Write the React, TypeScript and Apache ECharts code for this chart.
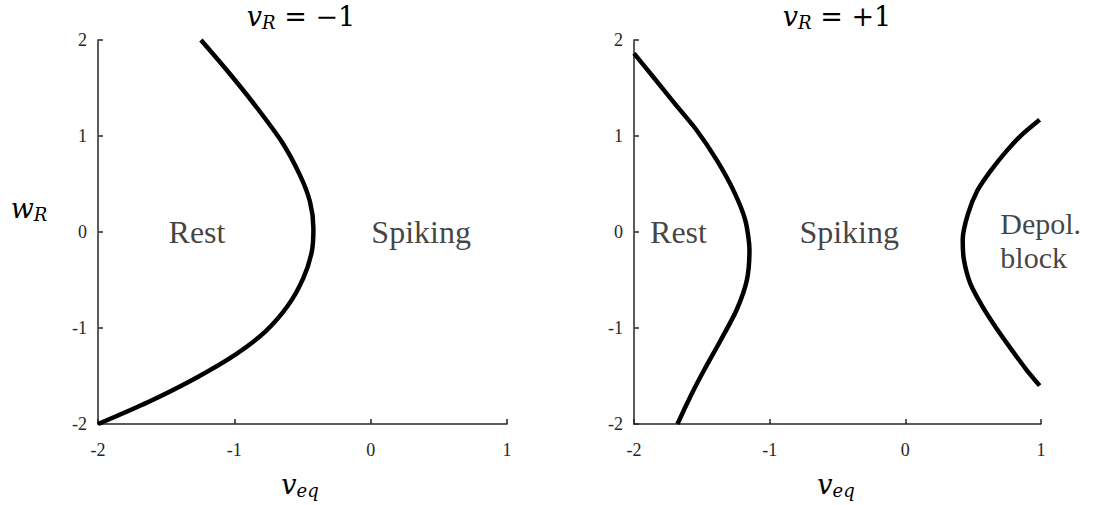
import React, { useEffect, useRef } from "react";
import * as echarts from "echarts";

// Axis ticks
const xTicks = [-2, -1, 0, 1];
const yTicks = [-2, -1, 0, 1, 2];

// Panel titles
const panelTitles = ["\u22121", "+1"];

// v_R = -1 : boundary curve (v_eq, w_R)
const leftCurve: [number, number][] = [
  [-1.245, 2.0], [-1.044, 1.667], [-0.848, 1.32], [-0.652, 0.94], [-0.518, 0.59],
  [-0.445, 0.315], [-0.42, 0.04], [-0.432, -0.206], [-0.494, -0.48], [-0.604, -0.76],
  [-0.775, -1.04], [-0.995, -1.28], [-1.288, -1.525], [-1.631, -1.77], [-2.0, -2.0],
];

// v_R = +1 : rest / spiking boundary
const rightCurveA: [number, number][] = [
  [-2.0, 1.86], [-1.858, 1.615], [-1.71, 1.355], [-1.538, 1.06], [-1.39, 0.748],
  [-1.268, 0.436], [-1.18, 0.124], [-1.149, -0.188], [-1.168, -0.5], [-1.243, -0.81],
  [-1.36, -1.125], [-1.48, -1.43], [-1.585, -1.715], [-1.68, -2.0],
];

// v_R = +1 : spiking / depolarization block boundary
const rightCurveB: [number, number][] = [
  [0.99, 1.17], [0.86, 1.015], [0.75, 0.85], [0.63, 0.64], [0.53, 0.43], [0.46, 0.18],
  [0.423, -0.08], [0.432, -0.29], [0.48, -0.54], [0.57, -0.78], [0.67, -1.0],
  [0.78, -1.22], [0.89, -1.43], [0.99, -1.6],
];

// Region labels
const leftLabelNames = ["Rest", "Spiking"];
const leftLabelX = [-1.274, 0.37];
const leftLabelY = [0.0, 0.0];
const rightLabelNames = ["Rest", "Spiking", "Depol.\nblock"];
const rightLabelX = [-1.672, -0.414, 0.7];
const rightLabelY = [0.0, 0.0, -0.09];

const AXIS_COLOR = "#262626";
const SERIF = "Liberation Serif";
const MATH = "DejaVu Serif";

function axisCommon() {
  return {
    axisLine: { show: true, onZero: false, lineStyle: { color: AXIS_COLOR, width: 1.5 } },
    axisTick: { show: true, inside: true, length: 5, lineStyle: { color: AXIS_COLOR, width: 1.5 } },
    splitLine: { show: false },
  };
}

const mathRich = {
  v: { fontFamily: MATH, fontStyle: "italic", fontSize: 27, lineHeight: 30, color: "#111" },
  s: { fontFamily: MATH, fontStyle: "italic", fontSize: 18, lineHeight: 18, verticalAlign: "bottom", color: "#111" },
  n: { fontFamily: MATH, fontSize: 27, lineHeight: 30, color: "#111" },
};

export default function App() {
  const ref = useRef<HTMLDivElement>(null);
  useEffect(() => {
    if (!ref.current) return;
    const chart = echarts.init(ref.current, null, { renderer: "svg" });
    const grids = [
      { left: 98, top: 40, width: 409, height: 384 },
      { left: 634, top: 40, width: 407, height: 384 },
    ];
    const xAxis = [0, 1].map((i) => ({
      type: "value",
      gridIndex: i,
      min: xTicks[0],
      max: xTicks[xTicks.length - 1],
      interval: 1,
      ...axisCommon(),
      axisLabel: { fontFamily: SERIF, fontSize: 18, color: AXIS_COLOR, margin: 17 },
    }));
    const yAxis = [0, 1].map((i) => ({
      type: "value",
      gridIndex: i,
      min: yTicks[0],
      max: yTicks[yTicks.length - 1],
      interval: 1,
      ...axisCommon(),
      axisLabel: { fontFamily: SERIF, fontSize: 18, color: AXIS_COLOR, margin: 11 },
    }));
    const lineSeries = (data: [number, number][], idx: number) => ({
      type: "line",
      xAxisIndex: idx,
      yAxisIndex: idx,
      data,
      showSymbol: false,
      smooth: 0.25,
      lineStyle: { color: "#000", width: 4.5, cap: "butt", join: "round" },
      silent: true,
    });
    const labelSeries = (
      names: string[], xs: number[], ys: number[], idx: number, align: string, size: number, lh: number
    ) => ({
      type: "scatter",
      xAxisIndex: idx,
      yAxisIndex: idx,
      symbolSize: 0,
      silent: true,
      data: names.map((n, k) => ({ name: n, value: [xs[k], ys[k]] })),
      label: {
        show: true,
        position: "inside",
        formatter: (p: any) => p.name,
        fontFamily: SERIF,
        fontSize: size,
        lineHeight: lh,
        color: "#111",
        align,
        verticalAlign: "middle",
      },
    });
    const graphicTexts = [
      { x: 301, y: 16, text: `{v|v}{s|R}{n| = ${panelTitles[0]}}` },
      { x: 837, y: 16, text: `{v|v}{s|R}{n| = ${panelTitles[1]}}` },
      { x: 300, y: 484, text: "{v|v}{s|eq}" },
      { x: 836, y: 484, text: "{v|v}{s|eq}" },
      { x: 29, y: 208, text: "{v|w}{s|R}" },
    ].map((g) => ({
      type: "text",
      x: g.x,
      y: g.y,
      silent: true,
      style: { text: g.text, rich: mathRich, align: "center", verticalAlign: "middle" },
    }));
    chart.setOption({
      animation: false,
      backgroundColor: "#ffffff",
      grid: grids,
      xAxis,
      yAxis,
      series: [
        lineSeries(leftCurve, 0),
        lineSeries(rightCurveA, 1),
        lineSeries(rightCurveB, 1),
        labelSeries(leftLabelNames, leftLabelX, leftLabelY, 0, "center", 32, 32),
        labelSeries(rightLabelNames.slice(0, 2), rightLabelX.slice(0, 2), rightLabelY.slice(0, 2), 1, "center", 32, 32),
        labelSeries(rightLabelNames.slice(2), rightLabelX.slice(2), rightLabelY.slice(2), 1, "left", 30, 34),
      ],
      graphic: graphicTexts,
    });
    return () => chart.dispose();
  }, []);
  return <div ref={ref} style={{ width: 1094, height: 505, position: "absolute", left: 0, top: 0 }} />;
}
